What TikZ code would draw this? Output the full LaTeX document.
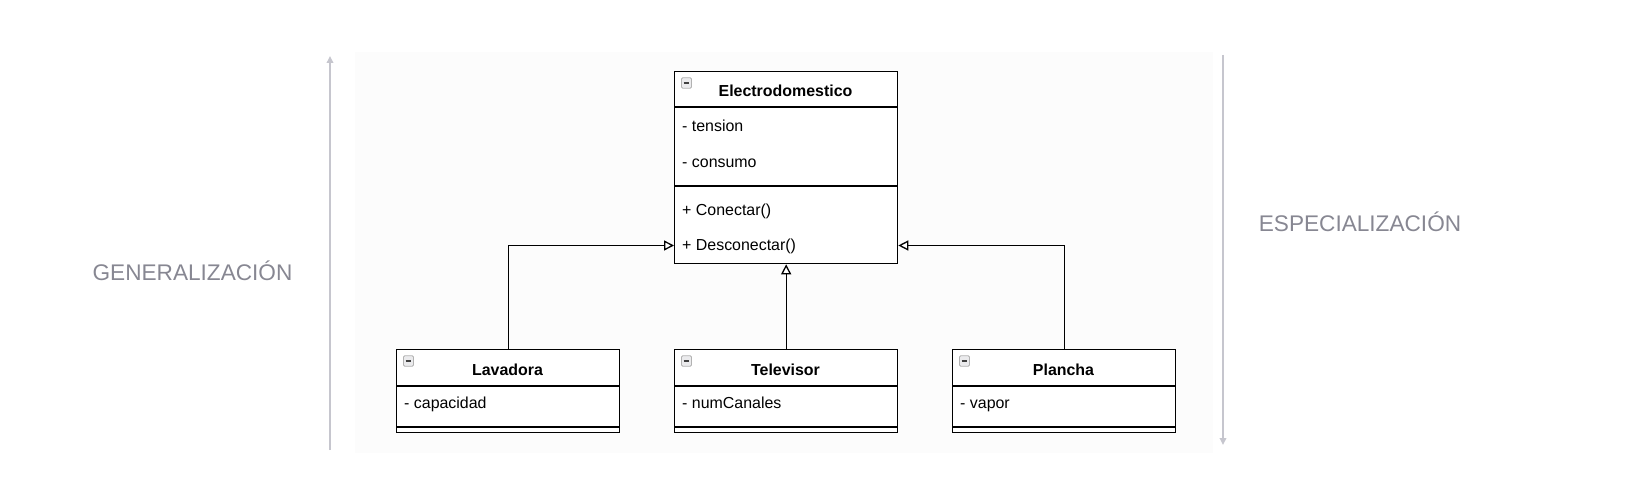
\documentclass[tikz,border=0pt]{standalone}
\usepackage{fontspec}
\setmainfont{Liberation Sans}
\usetikzlibrary{arrows.meta}
\definecolor{axisgray}{HTML}{C6C6CE}
\definecolor{labelgray}{HTML}{878792}
\definecolor{panel}{HTML}{FCFCFC}
\tikzset{
  classbox/.style={draw=black, line width=1.3bp, fill=white, anchor=north west, inner sep=0pt, minimum width=223bp},
  title/.style={font=\fontsize{16}{19}\selectfont\bfseries, inner sep=0pt, text height=11.5bp, text depth=3.4bp},
  member/.style={font=\fontsize{16}{19}\selectfont, anchor=west, inner sep=0pt, text height=11.5bp, text depth=3.4bp},
  sep/.style={line width=1.3bp},
  inh/.style={line width=1.3bp, -{Triangle[open, length=10bp, width=10bp, fill=white]}},
  axis/.style={draw=axisgray, line width=2bp, -{Triangle[length=7bp, width=6.5bp]}},
  biglabel/.style={font=\fontsize{22.7}{26}\selectfont, text=labelgray, inner sep=0pt},
  icon/.style={draw=gray!60, fill=blue!4!gray!15, rounded corners=1.2bp, line width=0.9bp, minimum width=10bp, minimum height=10.5bp, inner sep=0pt}
}
\newcommand{\minusicon}[2]{%
  \node[icon] (#1) at #2 {};
  \draw[line width=1.3bp, black!75] ([xshift=-2.8bp]#1.center) -- ([xshift=2.8bp]#1.center);}
\begin{document}
\begin{tikzpicture}[x=1bp, y=-1bp]
\useasboundingbox (0,0) rectangle (1638,496);
\fill[panel] (355,52) rectangle (1213,453);

% axes
\coordinate (gbot) at (330,450);
\coordinate (gtop) at (330,56);
\draw[axis] (gbot) -- (gtop);
\coordinate (stop) at (1223,55);
\coordinate (sbot) at (1223,445);
\draw[axis] (stop) -- (sbot);

\node[biglabel] (gen) at (192.5,271) {GENERALIZACIÓN};
\node[biglabel] (esp) at (1360,221.5) {ESPECIALIZACIÓN};

% Electrodomestico
\node[classbox, minimum height=192bp] (E) at (674,71) {};
\draw[sep] (674,107) -- (897,107);
\draw[sep] (674,186) -- (897,186);
\minusicon{Ei}{(686.5,83)}
\node[title] (Et) at (785.5,92.5) {Electrodomestico};
\node[member] (ten) at (682,127.5) {- tension};
\node[member] (con) at (682,163.5) {- consumo};
\node[member] (cnx) at (682,211) {+ Conectar()};
\node[member] (desc) at (682,246) {+ Desconectar()};

% Lavadora
\node[classbox, minimum height=83bp] (L) at (396,349) {};
\draw[sep] (396,386) -- (619,386);
\draw[sep] (396,427) -- (619,427);
\minusicon{Li}{(408.5,361)}
\node[title] (Lt) at (507.5,371) {Lavadora};
\node[member] (cap) at (404,404) {- capacidad};

% Televisor
\node[classbox, minimum height=83bp] (T) at (674,349) {};
\draw[sep] (674,386) -- (897,386);
\draw[sep] (674,427) -- (897,427);
\minusicon{Ti}{(686.5,361)}
\node[title] (Tt) at (785.5,371) {Televisor};
\node[member] (num) at (682,404) {- numCanales};

% Plancha
\node[classbox, minimum height=83bp] (P) at (952,349) {};
\draw[sep] (952,386) -- (1175,386);
\draw[sep] (952,427) -- (1175,427);
\minusicon{Pi}{(964.5,361)}
\node[title] (Pt) at (1063.5,371) {Plancha};
\node[member] (vap) at (960,404) {- vapor};

% inheritance
\coordinate (Ein) at ([yshift=0.5bp]E.west |- desc.west);
\coordinate (Eout) at ([yshift=0.5bp]E.east |- desc.west);
\draw[inh] (L.north) |- (Ein);
\draw[inh] (T.north) -- (E.south);
\draw[inh] (P.north) |- (Eout);
\end{tikzpicture}
\end{document}
